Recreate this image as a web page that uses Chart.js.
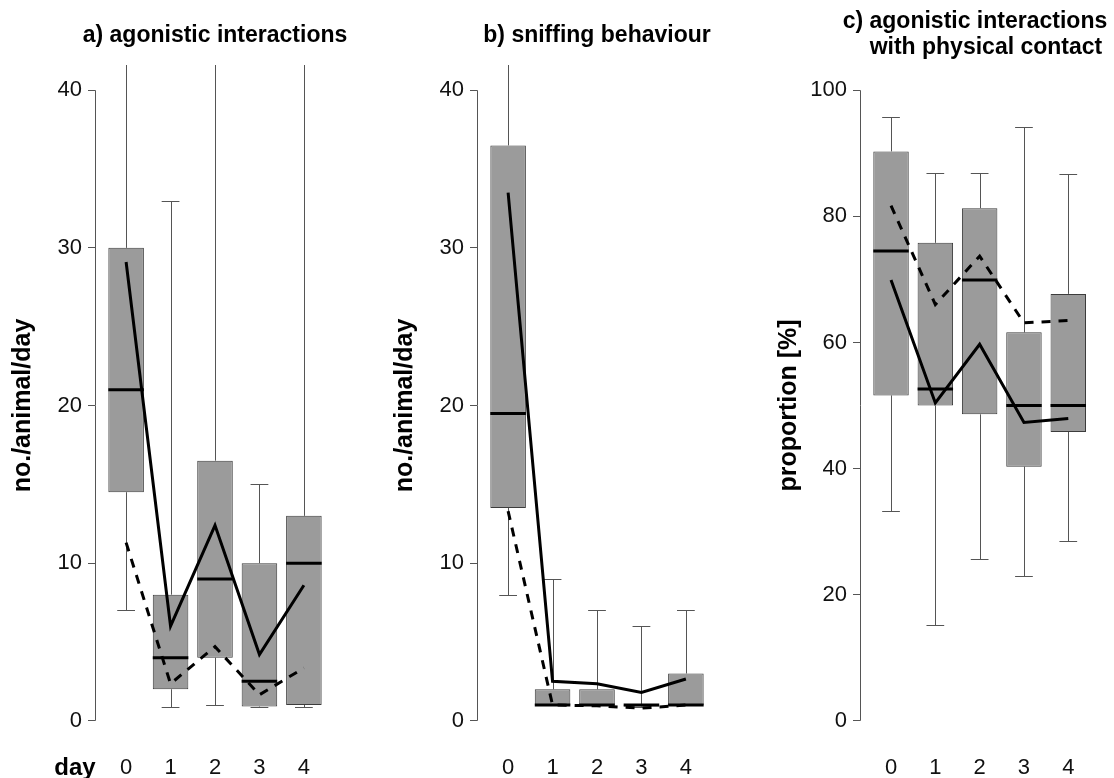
<!DOCTYPE html>
<html>
<head>
<meta charset="utf-8">
<script src="https://cdn.jsdelivr.net/npm/chart.js@4.4.0/dist/chart.umd.min.js"></script>
<style>
    body { margin: 0; background: #fff; overflow: hidden; }
    .painel { position: absolute; top: 0; }
</style>
</head>
<body>
<canvas id="graficoAgonistico" class="painel" width="370" height="778" style="left:0px"></canvas>
<canvas id="graficoFarejar" class="painel" width="370" height="778" style="left:370px"></canvas>
<canvas id="graficoContato" class="painel" width="374" height="778" style="left:740px"></canvas>
<script>

const dias = [0, 1, 2, 3, 4];

// a) agonistic interactions (no./animal/day)
const agonQ1 = [14.5, 2, 4, 0.9, 1];
const agonMediana = [21, 4, 9, 2.5, 10];
const agonQ3 = [30, 8, 16.5, 10, 13];
const agonMin = [7, 0.9, 1, 0.9, 0.9];
const agonMax = [52, 33, 44, 15, 47];
const agonSolida = [29.1, 6, 12.4, 4.2, 8.6];
const agonTracejada = [11.3, 2.35, 4.7, 1.65, 3.35];
const ticksContagem = [0, 10, 20, 30, 40];

// b) sniffing behaviour (no./animal/day)
const farejarQ1 = [13.5, 1, 1, 0.9, 1];
const farejarMediana = [19.5, 1, 1, 1, 1];
const farejarQ3 = [36.5, 2, 2, 1, 3];
const farejarMin = [8, 1, 1, 0.9, 1];
const farejarMax = [58, 9, 7, 6, 7];
const farejarSolida = [33.5, 2.5, 2.35, 1.8, 2.65];
const farejarTracejada = [13.3, 1, 0.95, 0.8, 1];

// c) agonistic interactions with physical contact (proportion %)
const contatoQ1 = [51.6, 50, 48.6, 40.3, 45.8];
const contatoMediana = [74.5, 52.6, 69.9, 50, 50];
const contatoQ3 = [90.3, 75.8, 81.3, 61.6, 67.7];
const contatoMin = [33.2, 15.2, 25.6, 23, 28.5];
const contatoMax = [95.8, 86.8, 86.9, 94.2, 86.7];
const contatoSolida = [69.9, 50.4, 59.7, 47.3, 47.95];
const contatoTracejada = [81.7, 66, 73.7, 63.1, 63.5];
const ticksProporcao = [0, 20, 40, 60, 80, 100];

const fonte = "'Liberation Sans', Arial, Helvetica, sans-serif";

// desenha bigodes, medianas, a linha do eixo y, o titulo e o rotulo "day"
function criarPluginCaixas(d) {
    return {
        id: 'caixas',
        beforeDatasetsDraw(chart) {
            const x = chart.scales.x;
            const y = chart.scales.y;
            const ctx = chart.ctx;
            const area = chart.chartArea;
            ctx.save();
            ctx.beginPath();
            ctx.rect(area.left, area.top, area.right - area.left, area.bottom - area.top);
            ctx.clip();
            ctx.strokeStyle = '#555';
            ctx.lineWidth = 1;
            d.dias.forEach((dia, i) => {
                const px = Math.round(x.getPixelForValue(dia)) + 0.5;
                const c1 = x.getPixelForValue(dia - 0.2);
                const c2 = x.getPixelForValue(dia + 0.2);
                const yMax = Math.round(y.getPixelForValue(d.max[i])) + 0.5;
                const yMin = Math.round(y.getPixelForValue(d.min[i])) + 0.5;
                ctx.beginPath();
                ctx.moveTo(px, y.getPixelForValue(d.q3[i]));
                ctx.lineTo(px, yMax);
                ctx.moveTo(c1, yMax);
                ctx.lineTo(c2, yMax);
                ctx.moveTo(px, y.getPixelForValue(d.q1[i]));
                ctx.lineTo(px, yMin);
                ctx.moveTo(c1, yMin);
                ctx.lineTo(c2, yMin);
                ctx.stroke();
            });
            ctx.restore();
        },
        afterDatasetDraw(chart, args) {
            if (args.index !== 0) return;
            const x = chart.scales.x;
            const y = chart.scales.y;
            const ctx = chart.ctx;
            ctx.save();
            ctx.strokeStyle = '#000';
            ctx.lineWidth = 3;
            d.dias.forEach((dia, i) => {
                const py = y.getPixelForValue(d.mediana[i]);
                ctx.beginPath();
                ctx.moveTo(x.getPixelForValue(dia - 0.4), py);
                ctx.lineTo(x.getPixelForValue(dia + 0.4), py);
                ctx.stroke();
            });
            ctx.restore();
        },
        afterDraw(chart) {
            const x = chart.scales.x;
            const y = chart.scales.y;
            const ctx = chart.ctx;
            const area = chart.chartArea;
            const ticks = d.ticksY;
            const px = Math.round(area.left) + 0.5;
            ctx.save();
            ctx.strokeStyle = '#555';
            ctx.lineWidth = 1;
            ctx.beginPath();
            ctx.moveTo(px, y.getPixelForValue(ticks[0]));
            ctx.lineTo(px, y.getPixelForValue(ticks[ticks.length - 1]));
            ctx.stroke();

            ctx.fillStyle = '#000';
            ctx.textAlign = 'center';
            ctx.textBaseline = 'alphabetic';
            ctx.font = 'bold 23px ' + fonte;
            const centro = (area.left + area.right) / 2;
            d.titulo.forEach(linha => {
                ctx.fillText(linha.texto, centro + linha.dx, linha.base);
            });

            if (d.rotuloDia) {
                ctx.font = 'bold 24px ' + fonte;
                ctx.fillText(d.rotuloDia, x.getPixelForValue(-1.15), x.top + 29);
            }
            ctx.restore();
        }
    };
}

function criarGrafico(id, d) {
    const pontos = serie => d.dias.map((dia, i) => ({ x: dia, y: serie[i] }));
    return new Chart(document.getElementById(id), {
        type: 'bar',
        data: {
            datasets: [
                {
                    type: 'bar',
                    data: d.dias.map((dia, i) => ({ x: dia, y: [d.q1[i], d.q3[i]] })),
                    backgroundColor: '#9b9b9b',
                    borderColor: '#3c3c3c',
                    borderWidth: 1,
                    borderSkipped: false,
                    categoryPercentage: 0.8,
                    barPercentage: 1,
                    order: 3
                },
                {
                    type: 'line',
                    data: pontos(d.tracejada),
                    borderColor: '#000',
                    borderWidth: 3,
                    borderDash: [9, 8],
                    pointRadius: 0,
                    tension: 0,
                    order: 2
                },
                {
                    type: 'line',
                    data: pontos(d.solida),
                    borderColor: '#000',
                    borderWidth: 3,
                    pointRadius: 0,
                    tension: 0,
                    order: 1
                }
            ]
        },
        options: {
            responsive: false,
            animation: false,
            layout: { padding: { left: 0, right: d.direita, top: 65, bottom: 0 } },
            plugins: {
                legend: { display: false },
                tooltip: { enabled: false },
                title: { display: false }
            },
            scales: {
                x: {
                    type: 'linear',
                    offset: false,
                    min: -0.7,
                    max: 4.7,
                    afterBuildTicks: s => { s.ticks = d.dias.map(v => ({ value: v })); },
                    afterFit: s => { s.height = 32; },
                    grid: { display: false, drawTicks: false, offset: false },
                    border: { display: false },
                    ticks: { color: '#111', font: { family: fonte, size: 22 }, padding: 9 }
                },
                y: {
                    min: d.yMin,
                    max: d.yMax,
                    afterBuildTicks: s => { s.ticks = d.ticksY.map(v => ({ value: v })); },
                    afterFit: s => { s.width = d.esquerda; },
                    grid: { drawOnChartArea: false, color: '#555', tickLength: 7 },
                    border: { display: false },
                    ticks: { color: '#111', font: { family: fonte, size: 22 }, padding: 6 },
                    title: {
                        display: true,
                        text: d.tituloY,
                        color: '#000',
                        font: { family: fonte, size: 25, weight: 'bold' },
                        padding: { top: d.tituloYPad, bottom: 0 }
                    }
                }
            }
        },
        plugins: [criarPluginCaixas(d)]
    });
}

criarGrafico('graficoAgonistico', {
    dias: dias, q1: agonQ1, mediana: agonMediana, q3: agonQ3, min: agonMin, max: agonMax,
    solida: agonSolida, tracejada: agonTracejada, ticksY: ticksContagem,
    yMin: -1.6, yMax: 41.6, esquerda: 95, direita: 35,
    titulo: [{ texto: 'a) agonistic interactions', dx: 0, base: 42 }],
    tituloY: 'no./animal/day', tituloYPad: 8, rotuloDia: 'day'
});

criarGrafico('graficoFarejar', {
    dias: dias, q1: farejarQ1, mediana: farejarMediana, q3: farejarQ3, min: farejarMin, max: farejarMax,
    solida: farejarSolida, tracejada: farejarTracejada, ticksY: ticksContagem,
    yMin: -1.6, yMax: 41.6, esquerda: 107, direita: 23,
    titulo: [{ texto: 'b) sniffing behaviour', dx: 0, base: 42 }],
    tituloY: 'no./animal/day', tituloYPad: 20
});

criarGrafico('graficoContato', {
    dias: dias, q1: contatoQ1, mediana: contatoMediana, q3: contatoQ3, min: contatoMin, max: contatoMax,
    solida: contatoSolida, tracejada: contatoTracejada, ticksY: ticksProporcao,
    yMin: -4, yMax: 104, esquerda: 120, direita: 14.7,
    titulo: [
        { texto: 'c) agonistic interactions', dx: -4.7, base: 28 },
        { texto: 'with physical contact', dx: 6.3, base: 54 }
    ],
    tituloY: 'proportion [%]', tituloYPad: 34
});
</script>
</body>
</html>
